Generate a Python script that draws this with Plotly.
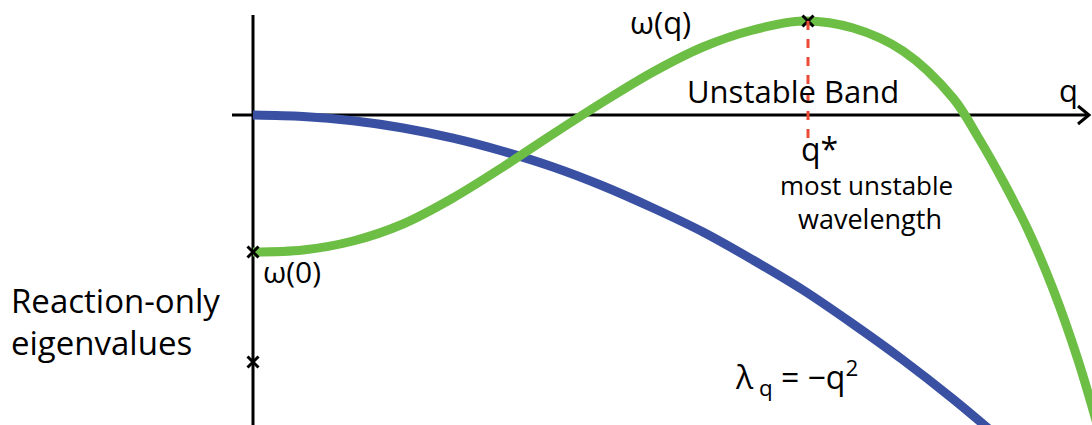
import plotly.graph_objects as go

# Dispersion relation omega(q) for the reaction-diffusion system
q_omega = [0.0, 0.5, 1.0, 1.5, 2.0, 2.5, 3.0, 3.5, 4.0, 4.5, 5.0, 5.5, 6.0, 6.5, 7.0,
           7.25, 7.5, 7.75, 8.0, 8.25, 8.5]
omega = [-1.37, -1.35, -1.26, -1.09, -0.83, -0.52, -0.19, 0.13, 0.43, 0.68, 0.85, 0.94, 0.87, 0.64, 0.17,
         -0.22, -0.66, -1.15, -1.74, -2.45, -3.30]

# Pure diffusion eigenvalues lambda_q = -q^2
q_lambda = [0.0, 0.5, 1.0, 1.5, 2.0, 2.5, 3.0, 3.5, 4.0, 4.5, 5.0, 5.5, 6.0, 6.5, 7.0, 7.5]
lam = [0.0, -0.015, -0.058, -0.13, -0.232, -0.363, -0.52, -0.71, -0.93, -1.17, -1.45, -1.75, -2.09, -2.45, -2.84, -3.26]

# Marked points: omega(0), a second reaction-only eigenvalue, and the peak omega(q*)
mark_q = [0.0, 0.0, 5.55]
mark_v = [-1.37, -2.47, 0.94]
q_star = 5.55

GREEN = "#6dbe45"
BLUE = "#3a51a3"
RED = "#ec4a36"
FONT = "Open Sans"

fig = go.Figure()

fig.add_trace(go.Scatter(x=q_lambda, y=lam, mode="lines",
                         line=dict(color=BLUE, width=9, shape="spline", smoothing=1),
                         hoverinfo="skip"))
fig.add_trace(go.Scatter(x=q_omega, y=omega, mode="lines",
                         line=dict(color=GREEN, width=9, shape="spline", smoothing=1),
                         hoverinfo="skip"))

# axes drawn as plain lines
shapes = [
    dict(type="line", x0=-0.21, x1=8.36, y0=0, y1=0,
         line=dict(color="black", width=3), layer="below"),
    dict(type="line", x0=0, x1=0, y0=1.00, y1=-3.2,
         line=dict(color="black", width=3), layer="below"),
    dict(type="path", path="M 8.25,0.09 L 8.36,0 L 8.25,-0.09",
         line=dict(color="black", width=3)),
    dict(type="line", x0=q_star, x1=q_star, y0=mark_v[2], y1=-0.26,
         line=dict(color=RED, width=3, dash="dash")),
]

fig.add_trace(go.Scatter(x=mark_q, y=mark_v, mode="markers",
                         marker=dict(symbol="x-thin", size=11, color="black",
                                     line=dict(color="black", width=3)),
                         hoverinfo="skip"))

def label(x, y, text, size, xanchor="center"):
    fig.add_annotation(x=x, y=y, text=text, showarrow=False, xanchor=xanchor,
                       yanchor="middle", font=dict(family=FONT, size=size, color="black"))

label(4.07, 0.93, "ω(q)", 31)
label(5.40, 0.24, "Unstable Band", 31)
label(8.15, 0.25, "q", 31)
label(5.66, -0.33, "q*", 32)
label(6.13, -0.70, "most unstable", 26)
label(6.17, -1.03, "wavelength", 27)
label(0.08, -1.56, "ω(0)", 30, xanchor="left")
label(-2.44, -1.85, "Reaction-only", 33, xanchor="left")
label(-2.44, -2.27, "eigenvalues", 33, xanchor="left")
label(5.43, -2.62, "λ<sub> q</sub> = −q<sup>2</sup>", 32)

fig.update_layout(
    width=1092, height=425,
    margin=dict(l=0, r=0, t=0, b=0),
    paper_bgcolor="white", plot_bgcolor="white",
    showlegend=False,
    shapes=shapes,
    xaxis=dict(range=[-2.53, 8.39], visible=False, fixedrange=True),
    yaxis=dict(range=[-3.10, 1.15], visible=False, fixedrange=True),
)

fig.write_html("out.html")
